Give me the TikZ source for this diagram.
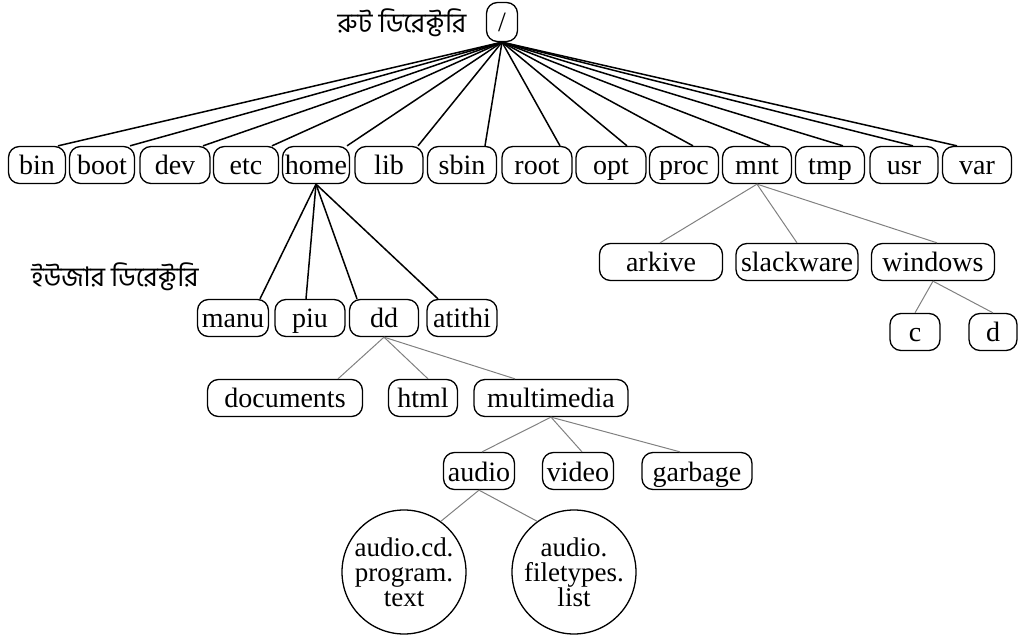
\documentclass[tikz,border=0pt]{standalone}
\usepackage{fontspec}
\setmainfont{Liberation Serif}
\newfontfamily\bangla[Script=Bengali]{Hind Siliguri}
\usepackage{tikz}

\tikzset{
  dir/.style={draw, line width=1.3pt, rounded corners=11pt, minimum height=37pt,
    minimum width=68pt, inner xsep=2pt, inner ysep=0pt, text height=20pt, text depth=0pt,
    font=\fontsize{28}{28}\selectfont},
  file/.style={draw, circle, line width=1.3pt, minimum size=124pt, inner sep=0pt,
    align=center, font=\fontsize{27}{25}\selectfont},
  label/.style={font=\bangla\fontsize{27}{27}\selectfont},
  trunk/.style={line width=1.5pt},
  twig/.style={draw=gray, line width=1pt}
}

\begin{document}
\begin{tikzpicture}[x=1pt,y=-1pt]
  \useasboundingbox (0,0) rectangle (1018,636);

  % root of the tree
  \node[dir, minimum width=31pt, minimum height=39pt] (slash) at (502,22) {/};
  \node[label] (rootlbl) at (402,23) {রুট ডিরেক্টরি};

  % first level
  \foreach \n/\x/\w in {bin/37/57, boot/102/65, dev/175/70, etc/246/65, home/316/67,
      lib/389/68, sbin/462/69, root/537/70, opt/611/70, proc/684/69, mnt/757/69,
      tmp/830/69, usr/904/68, var/977/69}
    \node[dir, minimum width=\w pt] (\n) at (\x,165) {\n};
  \foreach \n/\s in {bin/21, boot/28, dev/28, etc/26, home/31, lib/29, sbin/23,
      root/23, opt/16, proc/9, mnt/13, tmp/13, usr/9, var/-20}
    \draw[trunk] (slash.south) -- ([xshift=\s]\n.north);

  % home
  \node[label] (userlbl) at (115,277) {ইউজার ডিরেক্টরি};
  \node[dir, minimum width=71pt] (manu) at (233,318) {manu};
  \node[dir, minimum width=70pt] (piu) at (310,318) {piu};
  \node[dir, minimum width=69pt] (dd) at (384,318) {dd};
  \node[dir, minimum width=70pt] (atithi) at (462,318) {atithi};
  \foreach \n/\s in {manu/27, piu/-4, dd/-27, atithi/-24}
    \draw[trunk] (home.south) -- ([xshift=\s]\n.north);

  % mnt
  \node[dir, minimum width=123pt] (arkive) at (661,262) {arkive};
  \node[dir, minimum width=122pt] (slackware) at (797,262) {slackware};
  \node[dir, minimum width=123pt] (windows) at (933,262) {windows};
  \node[dir, minimum width=50pt] (c) at (915,332) {c};
  \node[dir, minimum width=48pt] (d) at (993,332) {d};
  \foreach \n/\s in {arkive/-1, slackware/0, windows/4}
    \draw[twig] (mnt.south) -- ([xshift=\s]\n.north);
  \draw[twig] (windows.south) -- (c.north);
  \draw[twig] (windows.south) -- (d.north);

  % dd
  \node[dir, minimum width=155pt] (documents) at (285,398) {documents};
  \node[dir, minimum width=69pt] (html) at (423,398) {html};
  \node[dir, minimum width=154pt] (multimedia) at (551,398) {multimedia};
  \foreach \n/\s in {documents/53, html/5, multimedia/-36}
    \draw[twig] (dd.south) -- ([xshift=\s]\n.north);

  % multimedia
  \node[dir, minimum width=71pt] (audio) at (479,471) {audio};
  \node[dir, minimum width=71pt] (video) at (578,471) {video};
  \node[dir, minimum width=110pt] (garbage) at (697,471) {garbage};
  \foreach \n/\s in {audio/3, video/4, garbage/-17}
    \draw[twig] (multimedia.south) -- ([xshift=\s]\n.north);

  % files in audio
  \node[file] (cdtext) at (404,572) {audio.cd.\\program.\\text};
  \node[file] (typelist) at (574,572) {audio.\\filetypes.\\list};
  \draw[twig] (audio.south) -- (cdtext.54);
  \draw[twig] (audio.south) -- (typelist.126);
\end{tikzpicture}
\end{document}
